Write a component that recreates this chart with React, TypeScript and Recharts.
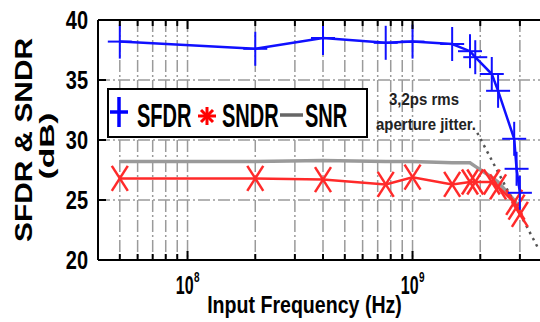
import React from 'react';
import { LineChart, Line, XAxis, YAxis, CartesianGrid, Legend } from 'recharts';

// measured points (Hz)
const freqs = [5e7, 2e8, 4e8, 7.6e8, 1e9, 1.5e9, 1.8e9, 1.9e9, 2.25e9, 2.4e9, 2.83e9, 2.9e9, 3e9];
const sfdr = [38.2, 37.6, 38.5, 38.1, 38.2, 38.0, 37.4, 36.9, 35.5, 34.1, 30.1, 27.6, 25.6];
const sndr = [26.8, 26.8, 26.7, 26.3, 26.9, 26.3, 26.5, 26.5, 26.5, 26.1, 24.8, 24.4, 23.8];
const snr = [28.2, 28.2, 28.3, 28.2, 28.2, 28.1, 28.1, 27.8, 26.9, 26.5, 25.0, 24.7, 24.3];

// 3,2ps rms aperture jitter limit
const jitterFreqs = [1.94e9, 3.66e9];
const jitterDb = [30.6, 20.8];

const xTicks = [5e7, 6e7, 7e7, 8e7, 9e7, 1e8, 2e8, 3e8, 4e8, 5e8, 6e8, 7e8, 8e8, 9e8, 1e9, 2e9, 3e9];
const yTicks = [20, 25, 30, 35, 40];

const data = freqs.map((f, i) => ({ f, sfdr: sfdr[i], sndr: sndr[i], snr: snr[i] }));
const jitter = jitterFreqs.map((f, i) => ({ f, jit: jitterDb[i] }));

const FONT = '"Liberation Sans", Arial, sans-serif';

const isMajor = (v: number) => {
  const e = Math.round(Math.log10(v));
  return Math.abs(Math.pow(10, e) - v) < 1 ? e : null;
};

const BottomTick = (props: any) => {
  const { x, y, payload } = props;
  const e = isMajor(payload.value);
  return (
    <g>
      <line x1={x} x2={x} y1={y} y2={y - (e !== null ? 9 : 6)} stroke="#000" strokeWidth={2} />
      {e !== null && (
        <g fontFamily={FONT} fontWeight={700} fill="#000">
          <text transform={`translate(${x + 6},${y + 34}) scale(1,1.6)`} textAnchor="end" fontSize={16}>
            10
          </text>
          <text transform={`translate(${x + 6.5},${y + 22}) scale(1,1.4)`} textAnchor="start" fontSize={10}>
            {e}
          </text>
        </g>
      )}
    </g>
  );
};

const TopTick = (props: any) => {
  const { x, y, payload } = props;
  const e = isMajor(payload.value);
  return <line x1={x} x2={x} y1={y} y2={y + (e !== null ? 9 : 6)} stroke="#000" strokeWidth={2} />;
};

const LeftTick = (props: any) => {
  const { x, y, payload } = props;
  return (
    <g>
      <line x1={x} x2={x + 8} y1={y} y2={y} stroke="#000" strokeWidth={2} />
      <text
        transform={`translate(${x - 10},${y + 9}) scale(1,1.26)`}
        textAnchor="end"
        fontSize={20}
        fontWeight={700}
        fontFamily={FONT}
        fill="#000"
      >
        {payload.value}
      </text>
    </g>
  );
};

const PlusDot = (p: any) => (
  <g key={`p${p.index}`}>
    <line x1={p.cx - 12} x2={p.cx + 12} y1={p.cy} y2={p.cy} stroke="#1010ff" strokeWidth={2} />
    <line x1={p.cx} x2={p.cx} y1={p.cy - 17} y2={p.cy + 17} stroke="#1010ff" strokeWidth={2} />
  </g>
);

const CrossDot = (p: any) => (
  <g key={`x${p.index}`}>
    <line x1={p.cx - 8} x2={p.cx + 8} y1={p.cy - 12.5} y2={p.cy + 12.5} stroke="#ff2a2a" strokeWidth={2.5} />
    <line x1={p.cx - 8} x2={p.cx + 8} y1={p.cy + 12.5} y2={p.cy - 12.5} stroke="#ff2a2a" strokeWidth={2.5} />
  </g>
);

const renderLegend = () => (
  <svg width={261} height={50} style={{ display: 'block' }}>
    <rect x={1} y={1} width={259} height={48} fill="#fff" stroke="#000" strokeWidth={2} />
    <line x1={3} x2={21} y1={24} y2={24} stroke="#0000ff" strokeWidth={3.5} />
    <line x1={12} x2={12} y1={9} y2={39} stroke="#0000ff" strokeWidth={3.5} />
    <g stroke="#ff0000" strokeWidth={3}>
      <line x1={91} x2={109} y1={28} y2={28} />
      <line x1={100} x2={100} y1={19} y2={37} />
      <line x1={94} x2={106} y1={22} y2={34} />
      <line x1={94} x2={106} y1={34} y2={22} />
    </g>
    <line x1={173} x2={196} y1={27} y2={27} stroke="#666" strokeWidth={3.5} />
    <g fontFamily={FONT} fontWeight={700} fontSize={20} fill="#000">
      <text transform="translate(30,38.7) scale(1,1.65)">SFDR</text>
      <text transform="translate(115,38.7) scale(1,1.65)">SNDR</text>
      <text transform="translate(198,38.7) scale(1,1.65)">SNR</text>
    </g>
  </svg>
);

export default function App() {
  return (
    <div
      style={{
        position: 'absolute',
        left: 0,
        top: 0,
        width: 540,
        height: 322,
        overflow: 'hidden',
        background: '#fff',
      }}
    >
      <LineChart width={558} height={322} data={data} margin={{ top: 19, right: 10, left: 97, bottom: 61 }}>
        <CartesianGrid stroke="#9a9a9a" strokeWidth={1.5} strokeDasharray="12 3 2 3" />
        <XAxis
          dataKey="f"
          type="number"
          scale="log"
          domain={[4e7, 4e9]}
          allowDataOverflow
          ticks={xTicks}
          interval={0}
          height={1}
          tickSize={0}
          tickMargin={0}
          tickLine={false}
          tick={<BottomTick />}
          axisLine={{ stroke: '#000', strokeWidth: 2 }}
        />
        <XAxis
          xAxisId="top"
          orientation="top"
          dataKey="f"
          type="number"
          scale="log"
          domain={[4e7, 4e9]}
          allowDataOverflow
          ticks={xTicks}
          interval={0}
          height={1}
          tickSize={0}
          tickMargin={0}
          tickLine={false}
          tick={<TopTick />}
          axisLine={{ stroke: '#000', strokeWidth: 2 }}
        />
        <YAxis
          type="number"
          domain={[20, 40]}
          ticks={yTicks}
          interval={0}
          width={1}
          tickSize={0}
          tickMargin={0}
          tickLine={false}
          tick={<LeftTick />}
          axisLine={{ stroke: '#000', strokeWidth: 2 }}
          allowDataOverflow
        />
        <Legend
          layout="vertical"
          align="center"
          verticalAlign="middle"
          content={renderLegend}
          wrapperStyle={{ left: 107, top: 88, width: 261, height: 50 }}
        />
        <Line dataKey="snr" name="SNR" stroke="#9a9a9a" strokeWidth={3.5} dot={false} isAnimationActive={false} />
        <Line
          data={jitter}
          dataKey="jit"
          name="jitter"
          stroke="#555"
          strokeWidth={2.5}
          strokeDasharray="2.5 4.5"
          dot={false}
          legendType="none"
          isAnimationActive={false}
        />
        <Line
          dataKey="sndr"
          name="SNDR"
          stroke="#ff2a2a"
          strokeWidth={2.5}
          dot={(p: any) => <CrossDot {...p} key={`x${p.index}`} />}
          isAnimationActive={false}
        />
        <Line
          dataKey="sfdr"
          name="SFDR"
          stroke="#1010ff"
          strokeWidth={2.5}
          dot={(p: any) => <PlusDot {...p} key={`p${p.index}`} />}
          isAnimationActive={false}
        />
        <g fontFamily={FONT} fontWeight={700} fill="#000">
          <text transform="translate(32,140) rotate(-90)" textAnchor="middle" fontSize={23} textLength={204} lengthAdjust="spacingAndGlyphs">
            SFDR &amp; SNDR
          </text>
          <text transform="translate(54,146) rotate(-90)" textAnchor="middle" fontSize={21} textLength={67} lengthAdjust="spacingAndGlyphs">
            (dB)
          </text>
          <text transform="translate(304.5,313) scale(1,1.2)" textAnchor="middle" fontSize={19.6}>
            Input Frequency (Hz)
          </text>
          <text transform="translate(424,105) scale(1,1.15)" textAnchor="middle" fontSize={15} fill="#222">
            3,2ps rms
          </text>
          <text transform="translate(426,130) scale(1,1.15)" textAnchor="middle" fontSize={15} fill="#222">
            aperture jitter.
          </text>
        </g>
      </LineChart>
    </div>
  );
}
